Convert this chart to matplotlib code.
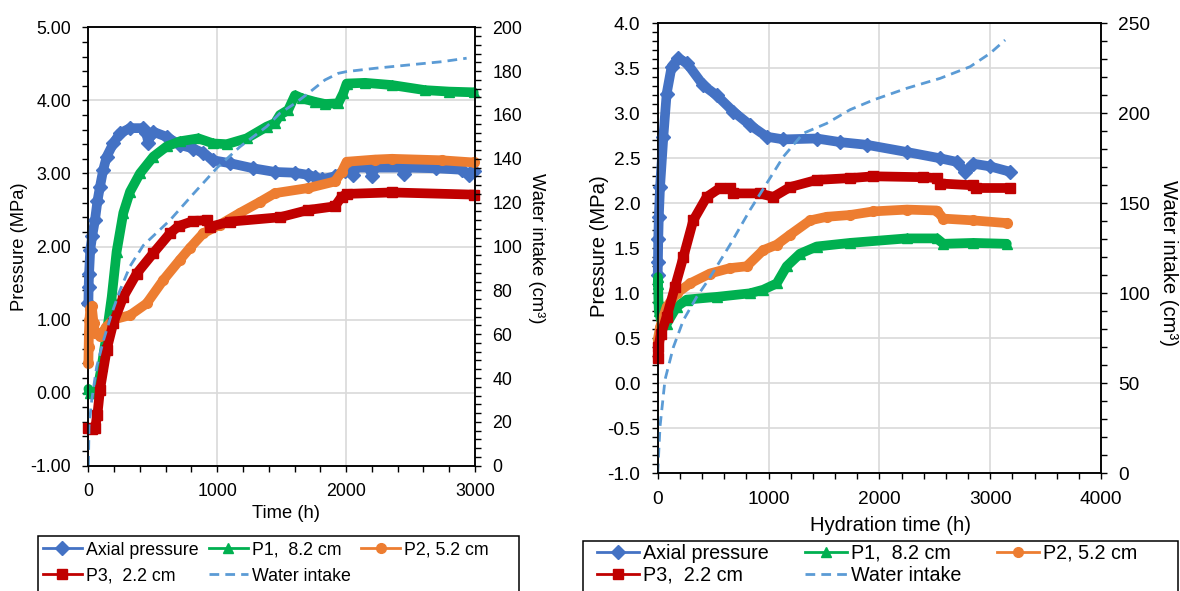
import matplotlib
matplotlib.use('Agg')
import matplotlib.pyplot as plt
from matplotlib.lines import Line2D
from matplotlib.patches import Rectangle
from matplotlib.ticker import MultipleLocator, FormatStrFormatter

plt.rcParams['font.family'] = ['Liberation Sans', 'DejaVu Sans']
plt.rcParams['axes.unicode_minus'] = False

# ---------------- left test: pressures (MPa) and water intake (cm3) vs time (h)
axial_t_l = [0, 2, 5, 14, 30, 51, 70, 90, 115, 142, 193, 245, 323, 426, 450, 465, 480, 504,
             608, 711, 814, 891, 969, 1099, 1280, 1448, 1600, 1706, 1760, 1810, 1913, 1990,
             2030, 2050, 2070, 2180, 2200, 2220, 2430, 2450, 2470, 2700, 2900, 2950, 2970, 2990]
axial_p_l = [1.22, 1.45, 1.62, 1.95, 2.15, 2.36, 2.62, 2.82, 3.05, 3.23, 3.41, 3.55, 3.62, 3.62,
             3.55, 3.42, 3.52, 3.57, 3.50, 3.39, 3.34, 3.28, 3.18, 3.14, 3.07, 3.02, 3.01, 2.98,
             2.95, 2.92, 2.96, 3.04, 3.08, 2.98, 3.08, 3.08, 2.97, 3.08, 3.08, 2.99, 3.08, 3.07,
             3.05, 2.98, 3.02, 3.03]

p1_t_l = [0, 14, 51, 70, 103, 142, 181, 219, 271, 323, 400, 504, 608, 711, 853, 969, 1073,
          1228, 1383, 1448, 1486, 1551, 1603, 1655, 1758, 1836, 1939, 1978, 2004, 2146, 2353,
          2612, 2800, 2990]
p1_p_l = [0.05, 0.0, 0.0, 0.05, 0.36, 0.81, 1.31, 1.93, 2.46, 2.75, 3.00, 3.23, 3.37, 3.44,
          3.48, 3.41, 3.40, 3.48, 3.64, 3.69, 3.80, 3.87, 4.07, 4.03, 3.98, 3.95, 3.96, 4.10,
          4.23, 4.24, 4.21, 4.14, 4.12, 4.11]

p2_t_l = [0, 2, 4, 8, 15, 26, 40, 51, 90, 140, 193, 323, 452, 581, 711, 788, 891, 1021,
          1176, 1331, 1448, 1706, 1913, 1965, 2004, 2224, 2353, 2741, 2990]
p2_p_l = [0.40, 0.62, 0.82, 1.00, 1.15, 1.18, 0.95, 0.81, 0.78, 0.90, 1.00, 1.06, 1.22,
          1.54, 1.82, 1.98, 2.18, 2.30, 2.46, 2.61, 2.73, 2.80, 2.89, 3.02, 3.16, 3.19,
          3.20, 3.18, 3.15]

p3_t_l = [0, 25, 51, 70, 90, 142, 193, 271, 375, 504, 633, 700, 814, 918, 943, 1099, 1486,
          1706, 1913, 1965, 2004, 2353, 2990]
p3_p_l = [-0.49, -0.50, -0.49, -0.30, 0.04, 0.59, 0.95, 1.31, 1.63, 1.91, 2.18, 2.28, 2.35,
          2.36, 2.27, 2.34, 2.40, 2.50, 2.55, 2.68, 2.72, 2.74, 2.71]

water_t_l = [0, 5, 26, 64, 116, 181, 245, 323, 426, 633, 814, 1000, 1176, 1383, 1486, 1603,
             1706, 1836, 1939, 2004, 2224, 2482, 2741, 2935]
water_v_l = [0, 18, 30, 45, 57, 69.5, 80, 91, 100.5, 112, 124, 136, 145.5, 154.7, 160.8,
             165.3, 169.9, 176, 179, 179.8, 181.3, 182.8, 184.3, 185.9]

# ---------------- right test: pressures (MPa) and water intake (cm3) vs hydration time (h)
axial_t_r = [0, 2, 5, 10, 21, 51, 81, 126, 186, 262, 412, 532, 682, 833, 984, 1134, 1435,
             1645, 1886, 2247, 2548, 2699, 2774, 2849, 2999, 3180]
axial_p_r = [1.20, 1.35, 1.60, 1.85, 2.18, 2.74, 3.22, 3.52, 3.61, 3.56, 3.31, 3.20, 3.02,
             2.87, 2.74, 2.71, 2.72, 2.68, 2.65, 2.57, 2.50, 2.46, 2.35, 2.44, 2.41, 2.35]

p1_t_r = [0, 3, 6, 10, 30, 81, 171, 262, 532, 833, 953, 1074, 1164, 1284, 1435, 1736, 2247,
          2518, 2578, 2849, 3150]
p1_p_r = [1.10, 1.18, 0.95, 0.80, 0.70, 0.66, 0.85, 0.93, 0.96, 1.00, 1.04, 1.11, 1.30,
          1.44, 1.52, 1.56, 1.61, 1.61, 1.55, 1.56, 1.55]

p2_t_r = [0, 20, 81, 171, 292, 472, 653, 803, 953, 1074, 1194, 1375, 1525, 1736, 1946, 2247,
          2518, 2578, 2849, 3150]
p2_p_r = [0.48, 0.62, 0.85, 1.00, 1.11, 1.22, 1.28, 1.30, 1.48, 1.54, 1.65, 1.81, 1.85,
          1.87, 1.91, 1.93, 1.92, 1.83, 1.81, 1.78]

p3_t_r = [0, 5, 30, 81, 156, 231, 321, 442, 562, 653, 682, 923, 1043, 1194, 1435, 1736,
          1946, 2397, 2518, 2548, 2849, 2870, 3180]
p3_p_r = [0.28, 0.40, 0.55, 0.74, 1.07, 1.40, 1.81, 2.07, 2.17, 2.17, 2.11, 2.11, 2.07,
          2.18, 2.26, 2.28, 2.30, 2.29, 2.28, 2.22, 2.20, 2.17, 2.17]

water_t_r = [0, 21, 66, 141, 231, 352, 457, 653, 833, 984, 1134, 1314, 1525, 1736, 1946,
             2247, 2548, 2819, 2999, 3135]
water_v_r = [0, 26, 52, 70, 85, 98, 107.4, 127, 146.3, 161.1, 175.9, 188.9, 194.4, 202,
             207.4, 213.9, 219.4, 225.9, 233.3, 240.7]

labels = ['Axial pressure', 'P1,  8.2 cm', 'P2, 5.2 cm', 'P3,  2.2 cm', 'Water intake']
colors = ['#4472C4', '#00B050', '#ED7D31', '#C00000']
markers = ['D', '^', 'o', 's']
water_color = '#5B9BD5'
water_dash = (3.5, 2.2)

W, H = 1180, 591
fig = plt.figure(figsize=(W / 100, H / 100), dpi=100)


def px_rect(x0, y0, x1, y1):
    return [x0 / W, 1 - y1 / H, (x1 - x0) / W, (y1 - y0) / H]


def panel(rect, series, water, xmax, ymin, ymax, ystep, yminor, yfmt,
          wmax, wstep, wminor, xlabel, tick_fs, label_fs, label_pos):
    ax = fig.add_axes(rect)
    ax2 = ax.twinx()
    for (t, p), c, m in zip(series, colors, markers):
        ax.plot(t, p, color=c, lw=7, marker=m, ms=7, mec=c,
                solid_joinstyle='round', solid_capstyle='round', clip_on=False, zorder=3)
    ax2.plot(water[0], water[1], color=water_color, lw=2, dashes=water_dash)

    ax.set_xlim(0, xmax)
    ax.set_ylim(ymin, ymax)
    ax2.set_ylim(0, wmax)
    ax.xaxis.set_major_locator(MultipleLocator(1000))
    ax.xaxis.set_minor_locator(MultipleLocator(200))
    ax.yaxis.set_major_locator(MultipleLocator(ystep))
    ax.yaxis.set_minor_locator(MultipleLocator(yminor))
    ax.yaxis.set_major_formatter(FormatStrFormatter(yfmt))
    ax2.yaxis.set_major_locator(MultipleLocator(wstep))
    ax2.yaxis.set_minor_locator(MultipleLocator(wminor))

    ax.grid(True, which='major', color='#D9D9D9', lw=1.2)
    ax.set_axisbelow(True)
    for a in (ax, ax2):
        for s in a.spines.values():
            s.set_color('black')
            s.set_linewidth(1.1)
        a.tick_params(which='both', direction='out', length=4.5, width=1,
                      labelsize=tick_fs, pad=8, colors='black')
    ax.tick_params(which='both', top=False, right=False)

    ax.set_xlabel(xlabel, fontsize=label_fs, va='center')
    ax.set_ylabel('Pressure (MPa)', fontsize=label_fs, va='center')
    ax2.set_ylabel('Water intake (cm³)', fontsize=label_fs, rotation=270, va='center')
    ax.xaxis.set_label_coords(*label_pos[0])
    ax.yaxis.set_label_coords(*label_pos[1])
    ax2.yaxis.set_label_coords(*label_pos[2])
    return ax, ax2


panel(px_rect(88.4, 27.3, 475, 465.7),
      [(axial_t_l, axial_p_l), (p1_t_l, p1_p_l), (p2_t_l, p2_p_l), (p3_t_l, p3_p_l)],
      (water_t_l, water_v_l), 3000, -1, 5, 1, 0.2, '%.2f', 200, 20, 4,
      'Time (h)', 12.8, 13.2,
      [(0.511, -0.108), (-0.177, 0.5), (1.160, 0.495)])

panel(px_rect(657.7, 23.3, 1101, 473.3),
      [(axial_t_r, axial_p_r), (p1_t_r, p1_p_r), (p2_t_r, p2_p_r), (p3_t_r, p3_p_r)],
      (water_t_r, water_v_r), 4000, -1, 4, 0.5, 0.1, '%.1f', 250, 50, 10,
      'Hydration time (h)', 13.8, 14.6,
      [(0.526, -0.115), (-0.132, 0.505), (1.153, 0.467)])

# legend entries, reordered so the three columns read row by row
handles = [Line2D([], [], color=c, lw=2, marker=m, ms=7, mec=c)
           for c, m in zip(colors, markers)]
handles.append(Line2D([], [], color=water_color, lw=2, dashes=water_dash))
order = [0, 3, 1, 4, 2]
h_ord = [handles[i] for i in order]
l_ord = [labels[i] for i in order]

fig.legend(h_ord, l_ord, loc='upper left', bbox_to_anchor=(42.5 / W, 1 - 541.7 / H),
           ncol=3, frameon=False, fontsize=12.8, handlelength=2.2, handletextpad=0.22,
           columnspacing=0.6, labelspacing=0.5, borderpad=0, borderaxespad=0)
fig.legend(h_ord, l_ord, loc='upper left', bbox_to_anchor=(597 / W, 1 - 543.8 / H),
           ncol=3, frameon=False, fontsize=14.2, handlelength=2.15, handletextpad=0.2,
           columnspacing=1.8, labelspacing=0.15, borderpad=0, borderaxespad=0)

# legend boxes run past the bottom edge of the figure
for x0, x1, top in [(37.6, 518.6, 535.7), (583, 1177.8, 540.7)]:
    fig.patches.append(Rectangle((x0 / W, -0.05), (x1 - x0) / W, 1 - top / H + 0.05,
                                 transform=fig.transFigure, fill=False,
                                 ec='black', lw=1.1))

fig.savefig('out.png', dpi=100)
